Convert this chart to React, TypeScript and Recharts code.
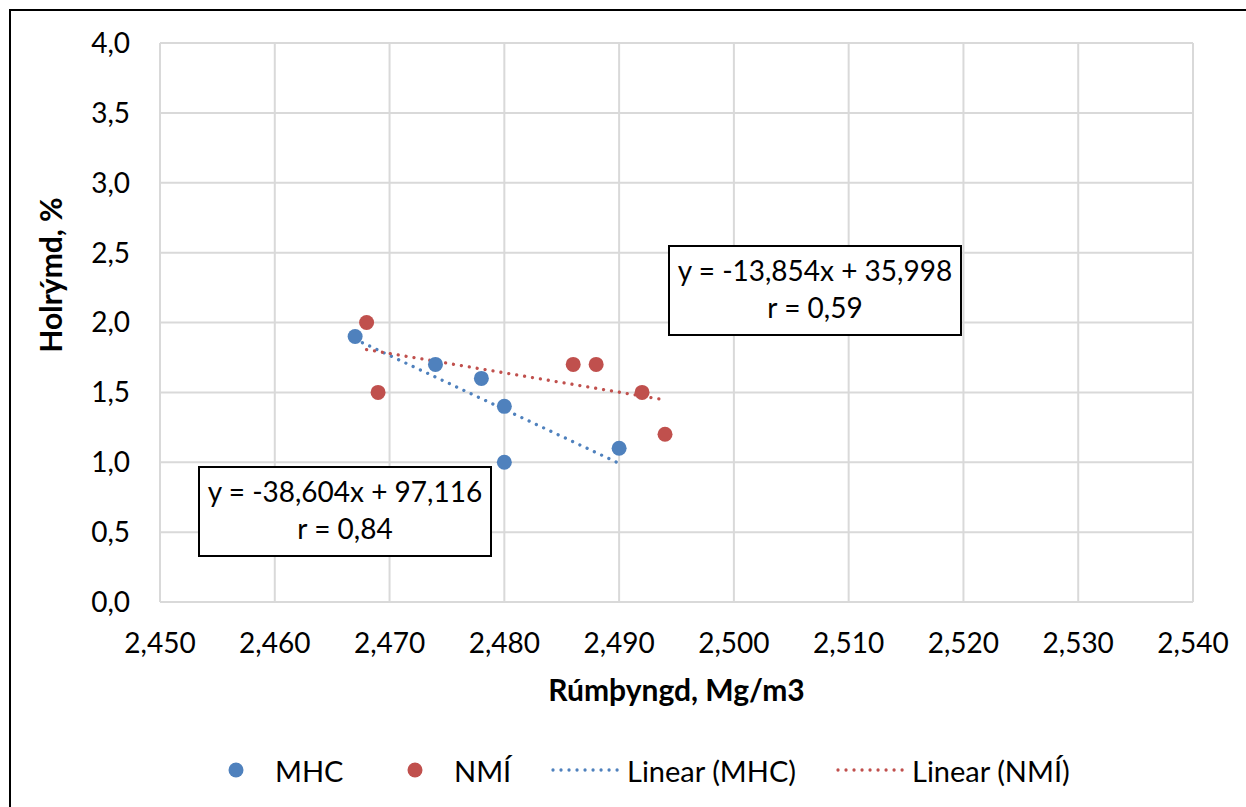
import { ScatterChart, Scatter, XAxis, YAxis, CartesianGrid, ReferenceLine } from 'recharts'

const FONT = 'Lato, "Open Sans", sans-serif'
const BLUE = '#4f81bd'
const RED = '#c0504d'
const GRID = '#d9d9d9'

// MHC: rúmþyngd (Mg/m3) vs holrýmd (%)
const MHC_X = [2.467, 2.474, 2.478, 2.48, 2.48, 2.49]
const MHC_Y = [1.9, 1.7, 1.6, 1.4, 1.0, 1.1]

// NMÍ
const NMI_X = [2.468, 2.469, 2.486, 2.488, 2.492, 2.494]
const NMI_Y = [2.0, 1.5, 1.7, 1.7, 1.5, 1.2]

// trendline end points (x, y) as drawn
const MHC_TREND = [
  { x: 2.467, y: 1.88 },
  { x: 2.49, y: 0.992 },
]
const NMI_TREND = [
  { x: 2.468, y: 1.806 },
  { x: 2.494, y: 1.446 },
]

const X_TICKS = [2.45, 2.46, 2.47, 2.48, 2.49, 2.5, 2.51, 2.52, 2.53, 2.54]
const Y_TICKS = [0, 0.5, 1, 1.5, 2, 2.5, 3, 3.5, 4]

const MHC_EQ = ['y = -38,604x + 97,116', 'r = 0,84']
const NMI_EQ = ['y = -13,854x + 35,998', 'r = 0,59']

const mhcData = MHC_X.map((x, i) => ({ x, y: MHC_Y[i] }))
const nmiData = NMI_X.map((x, i) => ({ x, y: NMI_Y[i] }))

const fmtX = (v: number) => v.toFixed(3).replace('.', ',')
const fmtY = (v: number) => v.toFixed(1).replace('.', ',')

const dot = (color: string) => (props: any) => (
  <circle cx={props.cx} cy={props.cy} r={7.5} fill={color} />
)

const DOTTED = { strokeWidth: 3.3, strokeDasharray: '0.01 8', strokeLinecap: 'round' as const }

function EqBox({ left, top, lines }: { left: number; top: number; lines: string[] }) {
  return (
    <div
      style={{
        position: 'absolute',
        left,
        top,
        width: 290,
        height: 82,
        border: '2px solid #000',
        background: '#fff',
        fontFamily: FONT,
        fontSize: 28,
        lineHeight: '37px',
        textAlign: 'center',
        paddingTop: 5,
        boxSizing: 'content-box',
        color: '#000',
      }}
    >
      {lines.map((l) => (
        <div key={l}>{l}</div>
      ))}
    </div>
  )
}

function LegendMarker({ left, color, label }: { left: number; color: string; label: string }) {
  return (
    <div style={{ position: 'absolute', left, top: 752, height: 36, display: 'flex', alignItems: 'center' }}>
      <svg width={16} height={16}>
        <circle cx={8} cy={8} r={7.5} fill={color} />
      </svg>
      <span style={{ marginLeft: 31 }}>{label}</span>
    </div>
  )
}

function LegendLine({ left, color, label }: { left: number; color: string; label: string }) {
  return (
    <div style={{ position: 'absolute', left, top: 752, height: 36, display: 'flex', alignItems: 'center' }}>
      <svg width={74} height={8}>
        <line x1={2} y1={4} x2={72} y2={4} stroke={color} {...DOTTED} />
      </svg>
      <span style={{ marginLeft: 2 }}>{label}</span>
    </div>
  )
}

export default function App() {
  return (
    <div
      style={{
        position: 'fixed',
        left: 0,
        top: 0,
        width: 1246,
        height: 807,
        overflow: 'hidden',
        background: '#fff',
        fontFamily: FONT,
        color: '#000',
      }}
    >
      <div
        style={{
          position: 'absolute',
          left: 9,
          top: 9,
          width: 1300,
          height: 900,
          border: '2px solid #000',
        }}
      />
      <div style={{ position: 'absolute', left: 0, top: 0 }}>
        <ScatterChart width={1246} height={807} margin={{ top: 43, right: 53, bottom: 145, left: 60 }}>
          <CartesianGrid stroke={GRID} strokeWidth={2} />
          <XAxis
            type="number"
            dataKey="x"
            domain={[2.45, 2.54]}
            ticks={X_TICKS}
            tickFormatter={fmtX}
            allowDataOverflow
            height={60}
            tickLine={false}
            tickSize={0}
            tickMargin={31}
            axisLine={{ stroke: GRID, strokeWidth: 2 }}
            tick={{ fill: '#000', fontSize: 28, fontFamily: FONT }}
          />
          <YAxis
            type="number"
            dataKey="y"
            domain={[0, 4]}
            ticks={Y_TICKS}
            tickFormatter={fmtY}
            allowDataOverflow
            width={100}
            tickLine={false}
            tickSize={0}
            tickMargin={30}
            axisLine={{ stroke: GRID, strokeWidth: 2 }}
            tick={{ fill: '#000', fontSize: 28, fontFamily: FONT }}
          />
          <ReferenceLine
            segment={MHC_TREND}
            stroke={BLUE}
            {...DOTTED}
            ifOverflow="visible"
          />
          <ReferenceLine
            segment={NMI_TREND}
            stroke={RED}
            {...DOTTED}
            ifOverflow="visible"
          />
          <Scatter name="MHC" data={mhcData} fill={BLUE} shape={dot(BLUE)} isAnimationActive={false} />
          <Scatter name="NMÍ" data={nmiData} fill={RED} shape={dot(RED)} isAnimationActive={false} />
        </ScatterChart>
      </div>

      {/* axis titles */}
      <div
        style={{
          position: 'absolute',
          left: 0,
          width: 1353,
          top: 671,
          textAlign: 'center',
          fontWeight: 700,
          fontSize: 30,
        }}
      >
        Rúmþyngd, Mg/m3
      </div>
      <div
        style={{
          position: 'absolute',
          left: 50,
          top: 275,
          transform: 'translate(-50%, -50%) rotate(-90deg)',
          fontWeight: 700,
          fontSize: 30,
          whiteSpace: 'nowrap',
        }}
      >
        Holrýmd, %
      </div>

      <EqBox left={198} top={466} lines={MHC_EQ} />
      <EqBox left={668} top={245} lines={NMI_EQ} />

      <div style={{ fontSize: 29 }}>
        <LegendMarker left={228} color={BLUE} label="MHC" />
        <LegendMarker left={407} color={RED} label="NMÍ" />
        <LegendLine left={551} color={BLUE} label="Linear (MHC)" />
        <LegendLine left={836} color={RED} label="Linear (NMÍ)" />
      </div>
    </div>
  )
}
